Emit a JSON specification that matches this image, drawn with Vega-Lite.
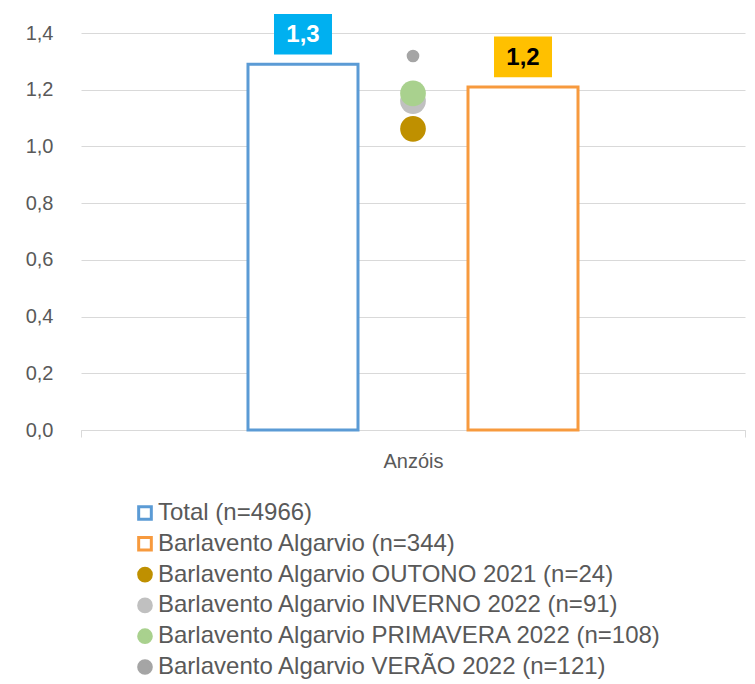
{
  "$schema": "https://vega.github.io/schema/vega-lite/v6.json",
  "width": 664,
  "height": 397,
  "autosize": {"type": "none"},
  "padding": {"left": 81, "top": 33, "right": 10, "bottom": 254},
  "background": "white",
  "config": {
    "locale": {"number": {"decimal": ",", "thousands": ".", "grouping": [3], "currency": ["", " €"]}},
    "font": "Liberation Sans",
    "view": {"stroke": null}
  },
  "data": {
    "values": [
      {"cat": "Anzóis", "serie": "Total (n=4966)", "grupo": "Total", "tipo": "barra", "valor": 1.29},
      {"cat": "Anzóis", "serie": "Barlavento Algarvio (n=344)", "grupo": "Barlavento", "tipo": "barra", "valor": 1.21},
      {"cat": "Anzóis", "serie": "Barlavento Algarvio OUTONO 2021 (n=24)", "grupo": "Épocas", "tipo": "ponto", "valor": 1.062},
      {"cat": "Anzóis", "serie": "Barlavento Algarvio INVERNO 2022 (n=91)", "grupo": "Épocas", "tipo": "ponto", "valor": 1.16},
      {"cat": "Anzóis", "serie": "Barlavento Algarvio PRIMAVERA 2022 (n=108)", "grupo": "Épocas", "tipo": "ponto", "valor": 1.187},
      {"cat": "Anzóis", "serie": "Barlavento Algarvio VERÃO 2022 (n=121)", "grupo": "Épocas", "tipo": "ponto_pequeno", "valor": 1.319}
    ]
  },
  "encoding": {
    "x": {
      "field": "cat", "type": "nominal",
      "scale": {"paddingInner": 0, "paddingOuter": 0},
      "axis": {"title": null, "labelAngle": 0, "labelFontSize": 20, "labelColor": "#595959", "labelPadding": 14,
               "domainColor": "#D9D9D9", "tickColor": "#D9D9D9", "tickBand": "extent", "tickSize": 7, "grid": false}
    },
    "xOffset": {
      "field": "grupo", "type": "nominal",
      "scale": {"domain": ["_esq", "Total", "Épocas", "Barlavento", "_dir"], "paddingInner": 0, "paddingOuter": 0.518}
    },
    "y": {
      "field": "valor", "type": "quantitative",
      "scale": {"domain": [0, 1.4], "nice": false},
      "axis": {"title": null, "values": [0, 0.2, 0.4, 0.6, 0.8, 1.0, 1.2, 1.4], "format": ".1f",
               "labelFontSize": 20, "labelColor": "#595959", "labelPadding": 28, "domain": false, "ticks": false,
               "gridColor": "#D9D9D9", "gridWidth": 1}
    }
  },
  "layer": [
    {
      "transform": [{"filter": "datum.tipo === 'barra'"}],
      "mark": {"type": "bar", "strokeWidth": 3, "opacity": 1},
      "encoding": {
        "fill": {"field": "serie", "type": "nominal",
          "scale": {"domain": ["Total (n=4966)", "Barlavento Algarvio (n=344)", "Barlavento Algarvio OUTONO 2021 (n=24)", "Barlavento Algarvio INVERNO 2022 (n=91)", "Barlavento Algarvio PRIMAVERA 2022 (n=108)", "Barlavento Algarvio VERÃO 2022 (n=121)"],
                    "range": ["#FFFFFF", "#FFFFFF", "#BF9000", "#C0C0C0", "#A9D18E", "#A5A5A5"]}},
        "stroke": {"field": "serie", "type": "nominal",
          "scale": {"domain": ["Total (n=4966)", "Barlavento Algarvio (n=344)", "Barlavento Algarvio OUTONO 2021 (n=24)", "Barlavento Algarvio INVERNO 2022 (n=91)", "Barlavento Algarvio PRIMAVERA 2022 (n=108)", "Barlavento Algarvio VERÃO 2022 (n=121)"],
                    "range": ["#5B9BD5", "#F79A3E", "#BF9000", "#C0C0C0", "#A9D18E", "#A5A5A5"]}}
      }
    },
    {
      "transform": [{"filter": "datum.tipo === 'ponto'"}],
      "mark": {"type": "point", "filled": true, "shape": "circle", "size": 660, "opacity": 1, "strokeWidth": 0},
      "encoding": {
        "fill": {"field": "serie", "type": "nominal"},
        "stroke": {"field": "serie", "type": "nominal"}
      }
    },
    {
      "transform": [{"filter": "datum.tipo === 'ponto_pequeno'"}],
      "mark": {"type": "point", "filled": true, "shape": "circle", "size": 160, "opacity": 1, "strokeWidth": 0},
      "encoding": {
        "fill": {"field": "serie", "type": "nominal"},
        "stroke": {"field": "serie", "type": "nominal"}
      }
    },
    {
      "transform": [{"filter": "datum.tipo === 'barra'"}],
      "mark": {"type": "point", "filled": true, "opacity": 1, "strokeWidth": 0, "size": 3364,
               "shape": "M-1,-0.7H1V0.7H-1Z", "yOffset": -30},
      "encoding": {
        "fill": {"condition": {"test": "datum.grupo === 'Total'", "value": "#00B0F0"}, "value": "#FFC000"}
      }
    },
    {
      "transform": [{"filter": "datum.tipo === 'barra'"}],
      "mark": {"type": "text", "fontSize": 24, "fontWeight": "bold", "yOffset": -29, "baseline": "middle", "align": "center"},
      "encoding": {
        "text": {"field": "valor", "type": "quantitative", "format": ".1f"},
        "color": {"condition": {"test": "datum.grupo === 'Total'", "value": "#FFFFFF"}, "value": "#000000"}
      }
    },
    {
      "mark": {"type": "point", "opacity": 0, "filled": true},
      "encoding": {
        "x": {"value": 0},
        "y": {"value": 0},
        "xOffset": null,
        "fill": {"field": "serie", "type": "nominal"},
        "stroke": {"field": "serie", "type": "nominal"},
        "shape": {"field": "serie", "type": "nominal",
          "scale": {"domain": ["Total (n=4966)", "Barlavento Algarvio (n=344)", "Barlavento Algarvio OUTONO 2021 (n=24)", "Barlavento Algarvio INVERNO 2022 (n=91)", "Barlavento Algarvio PRIMAVERA 2022 (n=108)", "Barlavento Algarvio VERÃO 2022 (n=121)"],
                    "range": ["square", "square", "circle", "circle", "circle", "circle"]},
          "legend": {
            "title": null, "orient": "none", "legendX": 52, "legendY": 468,
            "labelFontSize": 24, "labelColor": "#595959", "symbolSize": 160, "symbolStrokeWidth": 3,
            "rowPadding": 4.8, "labelOffset": 1, "symbolOpacity": 1, "labelLimit": 0
          }
        }
      }
    }
  ]
}
